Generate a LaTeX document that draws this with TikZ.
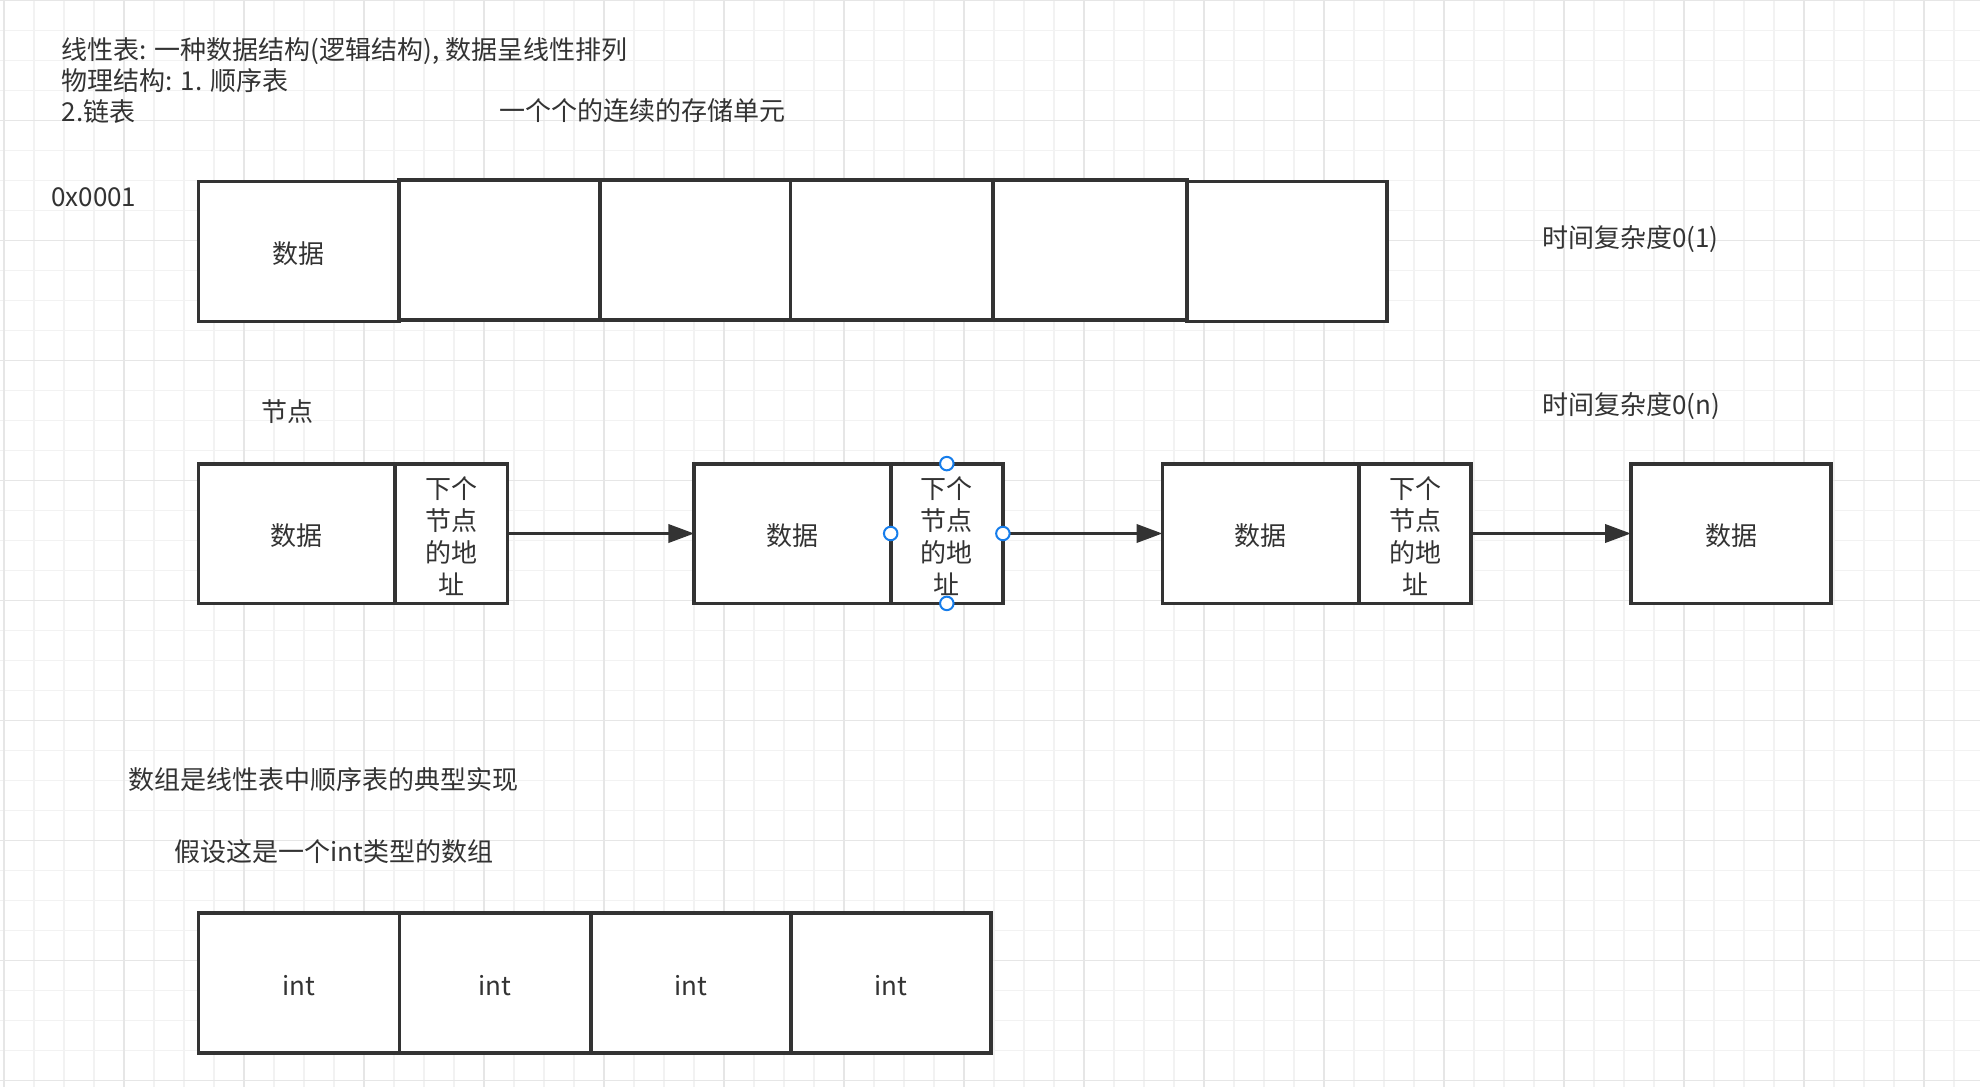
\documentclass[tikz,border=0pt]{standalone}
\usepackage{fontspec}
\setmainfont{Noto Sans CJK SC}
\usetikzlibrary{arrows.meta}
\definecolor{linec}{HTML}{333333}
\definecolor{txtc}{HTML}{333333}
\definecolor{gminor}{RGB}{242,242,242}
\definecolor{gmajor}{RGB}{230,230,230}
\definecolor{handleblue}{RGB}{22,125,235}
\newcommand{\fsz}{\fontsize{26pt}{32pt}\selectfont}
\begin{document}
\begin{tikzpicture}[x=1pt,y=-1pt,
  cell/.style={draw=linec, line width=3.8pt, fill=white, inner sep=0pt, outer sep=0pt, font=\fsz, text=txtc, align=center, text height=25.4pt, text depth=0.6pt},
  boxonly/.style={draw=linec, line width=3.8pt, fill=white, inner sep=0pt, outer sep=0pt},
  multitxt/.style={inner sep=0pt, font=\fsz, text=txtc, align=center, yshift=-2.8pt},
  lbl/.style={inner sep=0pt, font=\fsz, text=txtc, anchor=west, text height=22.9pt, text depth=3.1pt},
  arr/.style={draw=linec, line width=3.8pt, -{Triangle[length=26pt,width=18pt]}},
  handle/.style={circle, draw=handleblue, line width=2pt, fill=white, inner sep=0pt, minimum size=13.5pt},
  gridminor/.style={draw=gminor, line width=1.5pt},
  gridmajor/.style={draw=gmajor, line width=1.5pt}]
\useasboundingbox (0,0) rectangle (1980,1087);
\fill[white] (0,0) rectangle (1980,1087);
% grid
\foreach \i in {0,...,66} \draw[gridminor] (4+30*\i,0) -- (4+30*\i,1087);
\foreach \j in {0,...,36} \draw[gridminor] (0,0.7+30*\j) -- (1980,0.7+30*\j);
\foreach \i in {0,...,16} \draw[gridmajor] (4+120*\i,0) -- (4+120*\i,1087);
\foreach \j in {0,...,9} \draw[gridmajor] (0,0.7+120*\j) -- (1980,0.7+120*\j);

% header texts
\node[lbl] (t1) at (61.7,50) {线性表: 一种数据结构(逻辑结构), 数据呈线性排列};
\node[lbl] (t2) at (61.7,81) {物理结构: 1. 顺序表};
\node[lbl] (t3) at (61.7,112) {2.链表};
\node[lbl] (t4) at (499,111) {一个个的连续的存储单元};
\node[lbl] (t5) at (51,197) {0x0001};
\node[lbl] (t6) at (1542,238) {时间复杂度0(1)};
\node[lbl] (t7) at (1542,405) {时间复杂度0(n)};
\node[lbl, anchor=center] (t8) at (287,412) {节点};
\node[lbl] (t9) at (128.7,780) {数组是线性表中顺序表的典型实现};
\node[lbl] (t10) at (174.6,852) {假设这是一个int类型的数组};

% sequential array
\node[cell, minimum width=200.6pt, minimum height=140pt] (a1) at (298.7,251.5) {数据};
\node[cell, minimum width=200.8pt, minimum height=140pt] (a2) at (499.4,250) {};
\node[cell, minimum width=190.7pt, minimum height=140pt] (a3) at (695.15,250) {};
\node[cell, minimum width=202.1pt, minimum height=140pt] (a4) at (891.55,250) {};
\node[cell, minimum width=194.4pt, minimum height=140pt] (a5) at (1089.8,250) {};
\node[cell, minimum width=199.6pt, minimum height=140pt] (a6) at (1286.8,251.5) {};

% linked list
\node[cell, minimum width=196.5pt, minimum height=139.8pt] (n1d) at (296.75,533.5) {数据};
\node[boxonly, minimum width=112.5pt, minimum height=139.8pt] (n1n) at (451.25,533.5) {};
\node[multitxt] (n1t) at (n1n.center) {下个\\节点\\的地\\址};
\node[cell, minimum width=196.4pt, minimum height=139.8pt] (n2d) at (792.5,533.5) {数据};
\node[boxonly, minimum width=112.2pt, minimum height=139.8pt] (n2n) at (946.8,533.5) {};
\node[multitxt] (n2t) at (n2n.center) {下个\\节点\\的地\\址};
\node[cell, minimum width=196.5pt, minimum height=139.8pt] (n3d) at (1260.75,533.5) {数据};
\node[boxonly, minimum width=112.3pt, minimum height=139.8pt] (n3n) at (1415.15,533.5) {};
\node[multitxt] (n3t) at (n3n.center) {下个\\节点\\的地\\址};
\node[cell, minimum width=200pt, minimum height=139.8pt] (n4) at (1731,533.5) {数据};

\draw[arr] (n1n.east) -- (n2d.west);
\draw[arr] (n2n.east) -- (n3d.west);
\draw[arr] (n3n.east) -- (n4.west);

% selection handles
\node[handle] (h1) at (n2n.west) {};
\node[handle] (h2) at (n2n.east) {};
\node[handle] (h3) at (n2n.north) {};
\node[handle] (h4) at (n2n.south) {};

% int array
\node[cell, minimum width=201pt, minimum height=140pt] (b1) at (299,983.3) {int};
\node[cell, minimum width=191.4pt, minimum height=140pt] (b2) at (495.2,983.3) {int};
\node[cell, minimum width=199.7pt, minimum height=140pt] (b3) at (690.75,983.3) {int};
\node[cell, minimum width=200.2pt, minimum height=140pt] (b4) at (890.7,983.3) {int};
\end{tikzpicture}
\end{document}
